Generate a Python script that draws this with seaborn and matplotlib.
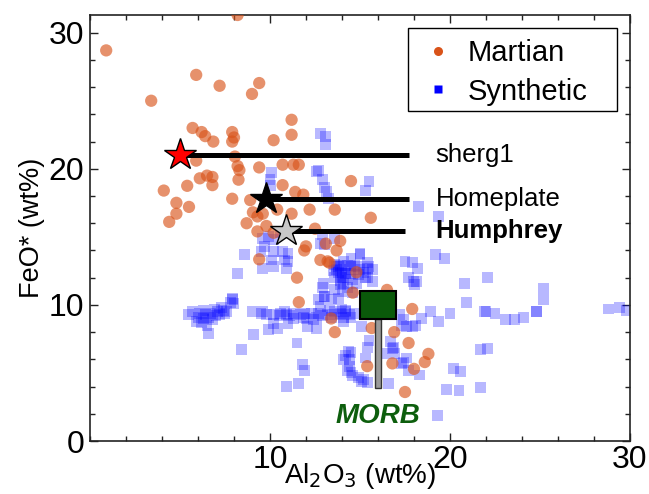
import matplotlib
matplotlib.use("Agg")
import matplotlib.pyplot as plt
from matplotlib.lines import Line2D
from matplotlib.patches import Rectangle
from matplotlib.ticker import MultipleLocator, FixedLocator
import pandas as pd
import seaborn as sns

# --- Martian meteorite / rover compositions (wt%) ---
martian_al2o3 = [0.9, 8.2, 3.4, 5.9, 7.2, 9.0, 9.4, 11.2, 11.2,
                 5.7, 6.2, 6.4, 6.85, 7.9, 8.0, 7.9, 10.2,
                 8.05, 8.2, 8.3, 8.25, 7.9, 6.1, 6.8, 6.8, 5.4, 4.1, 4.8, 5.5, 4.8, 4.4, 5.9, 6.5,
                 9.4, 10.7, 11.3, 8.9, 10.7, 11.4, 11.85, 12.2,
                 8.7, 9.3, 9.6, 9.8, 10.4, 9.05, 9.3, 11.2, 11.6,
                 10.2, 11.9, 13.1, 13.7, 13.9, 12.8, 13.2, 9.4, 12.0, 13.3,
                 11.5, 11.6, 13.6, 14.6, 14.8, 16.5, 17.9, 16.9, 13.4, 15.65,
                 17.7, 16.8, 18.0, 15.4, 17.5, 18.8, 18.6, 14.5, 13.6, 15.6, 12.5]
martian_feo = [28.7, 31.3, 25.0, 26.9, 26.1, 25.5, 26.3, 23.6, 22.5,
               23.0, 22.7, 22.4, 22.0, 22.7, 22.3, 22.0, 22.1,
               20.9, 20.2, 19.9, 19.2, 17.8, 19.3, 19.4, 18.8, 18.75, 18.4, 17.5, 17.2, 16.7, 16.1, 20.6, 19.5,
               20.1, 20.3, 20.3, 17.7, 18.8, 18.3, 18.1, 17.0,
               16.0, 16.5, 16.7, 15.8, 17.0, 16.8, 15.4, 16.7, 20.3,
               15.3, 14.0, 14.5, 14.0, 14.7, 13.3, 13.2, 13.35, 14.3, 13.1,
               12.0, 10.2, 8.0, 10.9, 12.4, 11.1, 9.7, 8.0, 9.0, 8.3,
               7.2, 5.7, 5.3, 5.5, 3.6, 6.4, 5.8, 19.1, 17.0, 16.4, 15.6]

# --- Synthetic melt compositions (wt%) ---
synthetic_al2o3 = [12.8, 13.1, 13.1,
                   10.1, 10.0, 10.05, 12.6, 12.7, 12.9, 13.05, 13.15, 13.25, 15.5, 15.3, 18.25, 19.35,
                   12.9, 13.6, 13.05, 14.5, 15.0, 15.4, 13.9, 17.5, 17.9, 11.0, 11.0,
                   10.2, 9.6, 9.7, 8.6, 9.5, 10.2, 10.7, 10.1, 10.2, 10.8, 9.6, 10.9, 8.2, 10.6, 9.9,
                   12.8, 13.7, 13.9, 14.1, 13.6, 14.5, 15.0, 15.5, 15.4, 15.7, 15.0, 12.96, 13.0, 12.8,
                   13.3, 14.2, 14.1, 14.7, 15.4, 17.2, 17.6, 18.1, 17.7, 18.15,
                   13.8, 14.2, 13.6, 13.9, 14.4, 14.9, 15.4, 15.7, 15.3, 14.8, 14.6, 12.9, 13.05,
                   12.7, 13.4, 14.2, 14.1, 14.5, 13.8, 13.2, 12.7, 12.3, 12.6,
                   13.8, 14.0, 14.3, 13.5, 14.6, 14.9,
                   13.7, 14.0, 14.2, 13.9, 14.3, 14.0, 13.8, 14.5, 14.7, 13.6, 14.1, 15.2,
                   7.5, 7.9, 9.0, 9.5, 10.2, 10.2, 10.9, 11.0, 11.7, 12.0, 12.6, 12.1, 9.1, 11.5,
                   8.4, 11.8, 11.9, 10.9, 11.6,
                   10.5, 11.3, 12.4, 13.6, 14.0,
                   9.8, 10.6, 11.1, 11.9, 12.9, 13.4, 13.9, 14.4,
                   5.46, 5.7, 6.3, 6.9, 7.9, 8.0, 7.6, 7.2, 6.8, 6.5, 6.6, 6.3, 7.0, 9.6, 10.4,
                   10.8, 11.3, 11.85, 9.9, 6.0, 6.7, 7.3, 5.9, 7.8,
                   6.1, 6.4, 6.6, 7.1, 7.4, 6.2,
                   14.35, 14.5, 14.1, 14.3, 14.5, 15.4, 15.2, 15.4, 16.6, 16.85, 17.3, 17.7, 14.4,
                   14.9, 15.1, 15.3, 15.5, 15.1, 16.4, 16.7, 16.8, 16.9, 16.3, 17.4, 17.4, 17.96,
                   14.2, 14.4, 14.6,
                   19.2, 19.7, 18.2, 18.05, 20.8, 22.1, 20.9, 20.0, 18.9, 19.35, 18.4, 17.9, 17.3,
                   21.9, 22.5, 23.1, 23.6, 24.1, 24.8, 25.2, 25.2, 28.8, 29.4, 29.8,
                   21.7, 22.1, 20.2, 20.6, 19.8, 20.5, 21.7, 19.3, 18.3, 17.6,
                   22.0, 24.8]
synthetic_feo = [22.6, 22.4, 21.8,
                 19.7, 19.2, 18.8, 19.8, 19.85, 19.2, 18.6, 18.3, 17.8, 19.1, 18.4, 17.2, 16.5,
                 15.15, 14.9, 14.4, 13.4, 13.8, 13.1, 12.9, 13.2, 13.1, 13.8, 13.2,
                 14.8, 14.9, 14.3, 13.7, 13.9, 13.9, 13.9, 13.3, 12.8, 13.3, 12.7, 12.7, 12.3, 15.3, 15.0,
                 14.5, 12.8, 12.3, 11.6, 11.1, 12.8, 12.6, 12.8, 12.0, 11.7, 13.7, 11.6, 10.6, 9.9,
                 9.6, 9.6, 9.1, 9.4, 9.4, 9.3, 8.4, 8.5, 12.0, 11.7,
                 12.8, 12.3, 12.0, 11.5, 12.6, 12.8, 12.7, 12.6, 12.0, 11.6, 10.9, 11.3, 10.6,
                 10.4, 10.4, 9.5, 8.8, 9.1, 9.3, 9.3, 9.4, 9.4, 8.3,
                 12.4, 12.0, 12.9, 12.5, 11.9, 12.2,
                 12.6, 12.4, 12.0, 11.8, 11.3, 11.0, 10.5, 12.3, 12.9, 13.0, 13.2, 12.4,
                 9.4, 10.4, 9.5, 9.4, 9.3, 8.65, 9.3, 8.65, 9.3, 9.0, 9.1, 8.4, 7.8, 7.2,
                 6.7, 5.6, 5.2, 4.0, 4.25,
                 9.2, 9.0, 8.9, 9.5, 9.7,
                 9.3, 9.4, 9.2, 9.4, 9.2, 9.1, 9.4, 9.3,
                 9.3, 9.5, 9.6, 9.7, 10.5, 10.1, 9.5, 9.3, 8.9, 8.5, 7.9, 9.0, 9.2, 9.5, 8.3,
                 9.5, 9.4, 9.1, 8.2, 9.1, 9.4, 9.8, 8.8, 10.2,
                 9.4, 9.3, 9.1, 9.5, 9.6, 8.7,
                 6.6, 6.5, 6.0, 5.2, 5.0, 6.9, 4.5, 4.3, 4.25, 6.9, 5.7, 5.2, 6.0,
                 4.7, 4.4, 6.1, 7.4, 8.4, 9.4, 7.3, 6.8, 6.4, 6.4, 5.8, 8.9, 11.7,
                 6.3, 5.5, 4.8,
                 13.7, 13.4, 12.7, 11.5, 11.6, 12.0, 10.2, 9.4, 9.5, 8.8, 9.0, 8.4, 8.5,
                 9.5, 9.4, 8.9, 8.9, 9.1, 9.5, 11.2, 10.4, 9.7, 9.8, 9.6,
                 6.7, 6.8, 5.3, 5.1, 3.8, 3.7, 3.9, 1.9, 4.85, 6.1,
                 9.5, 9.5]

# --- Named reference samples ---
sample_names = ["sherg1", "Homeplate", "Humphrey"]
sample_al2o3 = [5.0, 9.8, 10.9]
sample_feo = [21.0, 17.8, 15.4]
sample_colors = ["#ff0000", "#000000", "#c8c8c8"]
sample_line_end = [17.7, 17.7, 17.5]
sample_label_x = 19.2

# --- MORB average and FeO range ---
morb_al2o3 = 16.0
morb_feo_box = (9.0, 11.0)
morb_feo_low = 3.9

martian_color = "#d95319"
synthetic_color = "#0000ff"

sns.set_theme(style="ticks")
plt.rcParams["font.family"] = ["Liberation Sans", "DejaVu Sans"]
plt.rcParams.update({"text.color": "black", "axes.labelcolor": "black",
                     "xtick.color": "black", "ytick.color": "black"})

fig = plt.figure(figsize=(6.49, 4.94), dpi=100)
ax = fig.add_axes([90 / 649, 1 - 441 / 494, 540 / 649, 426 / 494])

df_syn = pd.DataFrame({"Al2O3": synthetic_al2o3, "FeO": synthetic_feo})
df_mar = pd.DataFrame({"Al2O3": martian_al2o3, "FeO": martian_feo})

sns.scatterplot(data=df_syn, x="Al2O3", y="FeO", marker="s", s=62, color=synthetic_color,
                alpha=0.28, edgecolor="none", linewidth=0, ax=ax, legend=False, zorder=2)
sns.scatterplot(data=df_mar, x="Al2O3", y="FeO", marker="o", s=78, color=martian_color,
                alpha=0.64, edgecolor="none", linewidth=0, ax=ax, legend=False, zorder=3)

# reference samples: leader line, star, label
for name, xs, ys, col, xe in zip(sample_names, sample_al2o3, sample_feo, sample_colors, sample_line_end):
    ax.plot([xs, xe], [ys, ys], color="black", lw=3.6, solid_capstyle="butt", zorder=4)
    ax.plot(xs, ys, marker="*", markersize=24, markerfacecolor=col, markeredgecolor="black",
            markeredgewidth=1.0, linestyle="none", zorder=5)
    ax.text(sample_label_x, ys, name, fontsize=18.5, va="center", ha="left",
            fontweight="bold" if name == "Humphrey" else "normal", zorder=6)

# MORB marker: box for mean, stem for the spread
ax.add_patch(Rectangle((morb_al2o3 - 0.15, morb_feo_low), 0.3, morb_feo_box[0] - morb_feo_low,
                       facecolor="#9a9a9a", edgecolor="#333333", lw=1.0, zorder=5))
ax.add_patch(Rectangle((morb_al2o3 - 1.02, morb_feo_box[0]), 2.04, morb_feo_box[1] - morb_feo_box[0],
                       facecolor="#0a5a0a", edgecolor="black", lw=1.5, zorder=6))
ax.text(morb_al2o3, 1.85, "MORB", color="#0d5e0d", fontsize=20, fontweight="bold",
        fontstyle="italic", ha="center", va="center", zorder=6)

ax.set_xlim(0, 30)
ax.set_ylim(0, 31.3)
ax.xaxis.set_major_locator(FixedLocator([10, 20, 30]))
ax.xaxis.set_minor_locator(MultipleLocator(2))
ax.yaxis.set_major_locator(FixedLocator([0, 10, 20, 30]))
ax.yaxis.set_minor_locator(MultipleLocator(2))
ax.tick_params(which="both", direction="in", top=True, right=True, color="#222222", width=1.0)
ax.tick_params(which="major", length=6, labelsize=23, pad=3)
ax.tick_params(which="minor", length=3.5)
ax.tick_params(axis="y", which="major", pad=4)
for sp in ax.spines.values():
    sp.set_linewidth(1.2)
    sp.set_color("#222222")

ax.set_xlabel("Al$_2$O$_3$ (wt%)", fontsize=20, labelpad=-10)
ax.set_ylabel("FeO* (wt%)", fontsize=19.5, labelpad=3)

# legend box drawn separately so its padding can be set per side
ax.add_patch(Rectangle((318 / 540, 330 / 426), 209 / 540, 83 / 426, transform=ax.transAxes,
                       facecolor="white", edgecolor="black", lw=1.0, zorder=7))
handles = [Line2D([], [], marker="o", linestyle="none", markersize=6.5, markerfacecolor=martian_color,
                  markeredgecolor="none", label="Martian"),
           Line2D([], [], marker="s", linestyle="none", markersize=5.5, markerfacecolor=synthetic_color,
                  markeredgecolor="none", label="Synthetic")]
leg = ax.legend(handles=handles, loc="upper left", bbox_to_anchor=(333.4 / 540, 402 / 426), fontsize=21,
                frameon=False, handlelength=1.0, handletextpad=0.53, borderpad=0, labelspacing=0.36,
                borderaxespad=0)
leg.set_zorder(8)

fig.savefig("out.png", dpi=100)
